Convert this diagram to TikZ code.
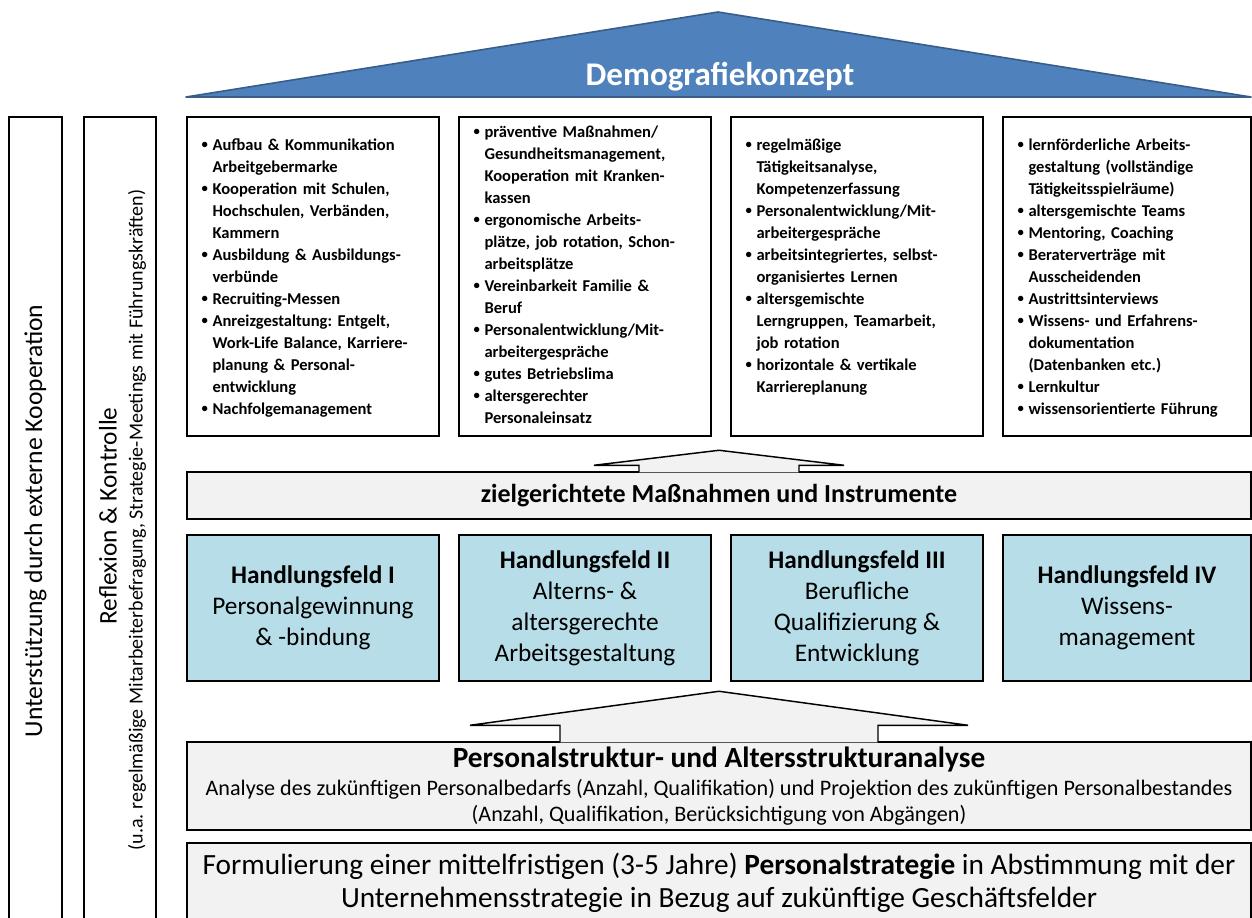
\documentclass[tikz,border=0pt]{standalone}
\usepackage{fontspec}
\setmainfont{Carlito}
\usepackage{enumitem}
\usetikzlibrary{calc}
\frenchspacing
\definecolor{roofblue}{HTML}{4F81BD}
\definecolor{roofline}{HTML}{385D8A}
\definecolor{fieldblue}{HTML}{B7DEE8}
\definecolor{barfill}{HTML}{F2F2F2}
\newcommand{\liste}[1]{\begin{itemize}[nosep,leftmargin=9.75pt,labelsep=3.5pt,
  label={\raisebox{0.12em}{\fontsize{9.5}{9.5}\selectfont\textbullet}}]\raggedright#1\end{itemize}}

\begin{document}
\begin{tikzpicture}[x=0.75pt,y=-0.75pt,
  box/.style={draw,line width=1.1pt,inner sep=0pt},
  colbox/.style={box,minimum width=189pt,minimum height=239.25pt},
  listtext/.style={anchor=north west,inner sep=0pt,text width=172pt,align=left,
    font=\fontsize{12.4}{16.5}\selectfont\bfseries},
  field/.style={box,fill=fieldblue,minimum width=189pt,minimum height=109.5pt,
    align=center,font=\fontsize{19}{23.25}\selectfont},
  bar/.style={box,fill=barfill,minimum width=798pt,align=center},
  sidebox/.style={box,minimum height=606pt},
  blockarrow/.style={fill=barfill,draw,line width=1.1pt,line join=miter}]
  \useasboundingbox (0,0) rectangle (1252,917);

  % Roof
  \filldraw[fill=roofblue,draw=roofline,line width=1.2pt,line join=round]
    (186,97) -- (718,12) -- (1251,97) -- cycle;
  \draw[roofline,line width=2.2pt] (186,97) -- (1251,97);
  \node[text=white,font=\fontsize{24.8}{28}\selectfont\bfseries] (title) at (720,77) {Demografiekonzept};

  % Side columns
  \node[sidebox,minimum width=39.75pt] (ext) at (35.5,521) {};
  \node[sidebox,minimum width=54pt] (rk) at (120,521) {};
  \node[rotate=90,font=\fontsize{19.2}{22}\selectfont] (koop) at (ext.center) {Unterstützung durch externe Kooperation};
  \node[rotate=90,font=\fontsize{19}{22}\selectfont] (refl) at (108,516) {Reflexion \& Kontrolle};
  \node[rotate=90,font=\fontsize{15}{17}\selectfont] (reflsub) at (137,520)
    {(u.a. regelmäßige Mitarbeiterbefragung, Strategie-Meetings mit Führungskräften)};

  % Measures
  \node[colbox] (colA) at (313,276.5) {};
  \node[colbox] (colB) at (585,276.5) {};
  \node[colbox] (colC) at (857,276.5) {};
  \node[colbox,minimum width=186pt] (colD) at (1127,276.5) {};

  \node[listtext] (listA) at ($(colA.north west)+(13,12)$) {\liste{
    \item Aufbau \& Kommunikation\\Arbeitgebermarke
    \item Kooperation mit Schulen,\\Hochschulen, Verbänden,\\Kammern
    \item Ausbildung \& Ausbildungs-\\verbünde
    \item Recruiting-Messen
    \item Anreizgestaltung: Entgelt,\\Work-Life Balance, Karriere-\\planung \& Personal-\\entwicklung
    \item Nachfolgemanagement}};
  \node[listtext] (listB) at ($(colB.north west)+(13,-1)$) {\liste{
    \item präventive Maßnahmen/\\Gesundheitsmanagement,\\Kooperation mit Kranken-\\kassen
    \item ergonomische Arbeits-\\plätze, job rotation, Schon-\\arbeitsplätze
    \item Vereinbarkeit Familie \&\\Beruf
    \item Personalentwicklung/Mit-\\arbeitergespräche
    \item gutes Betriebslima
    \item altersgerechter\\Personaleinsatz}};
  \node[listtext] (listC) at ($(colC.north west)+(13,12)$) {\liste{
    \item regelmäßige\\Tätigkeitsanalyse,\\Kompetenzerfassung
    \item Personalentwicklung/Mit-\\arbeitergespräche
    \item arbeitsintegriertes, selbst-\\organisiertes Lernen
    \item altersgemischte\\Lerngruppen, Teamarbeit,\\job rotation
    \item horizontale \& vertikale\\Karriereplanung}};
  \node[listtext] (listD) at ($(colD.north west)+(13,12)$) {\liste{
    \item lernförderliche Arbeits-\\gestaltung (vollständige\\Tätigkeitsspielräume)
    \item altersgemischte Teams
    \item Mentoring, Coaching
    \item Beraterverträge mit\\Ausscheidenden
    \item Austrittsinterviews
    \item Wissens- und Erfahrens-\\dokumentation\\(Datenbanken etc.)
    \item Lernkultur
    \item wissensorientierte Führung}};

  % Instruments bar and fields
  \node[bar,minimum height=35.25pt,font=\fontsize{19.5}{22}\selectfont\bfseries] (meas) at (719,495.5)
    {zielgerichtete Maßnahmen und Instrumente};
  \node[field] (hf1) at (313,608) {\textbf{Handlungsfeld I}\\Personalgewinnung\\\& -bindung};
  \node[field] (hf2) at (585,608) {\textbf{Handlungsfeld II}\\Alterns- \&\\altersgerechte\\Arbeitsgestaltung};
  \node[field] (hf3) at (857,608) {\textbf{Handlungsfeld III}\\Berufliche\\Qualifizierung \&\\Entwicklung};
  \node[field,minimum width=186pt] (hf4) at (1127,608) {\textbf{Handlungsfeld IV}\\Wissens-\\management};

  % Analysis and strategy
  \node[bar,minimum height=66pt,font=\fontsize{16.6}{19.5}\selectfont] (ana) at (719,786)
    {{\fontsize{22}{24}\selectfont\bfseries Personalstruktur- und Altersstrukturanalyse}\\[1pt]
     Analyse des zukünftigen Personalbedarfs (Anzahl, Qualifikation) und Projektion des zukünftigen Personalbestandes\\
     (Anzahl, Qualifikation, Berücksichtigung von Abgängen)};
  \node[bar,minimum height=60pt,font=\fontsize{22}{25}\selectfont] (strat) at (719,883)
    {Formulierung einer mittelfristigen (3-5 Jahre) \textbf{Personalstrategie} in Abstimmung mit der\\
     Unternehmensstrategie in Bezug auf zukünftige Geschäftsfelder};

  % Arrows
  \coordinate (tipA) at ($(meas.north)+(0,-21)$);
  \filldraw[blockarrow] ($(meas.north)+(-80,1)$) |- ($(meas.north)+(-125,-6)$) -- (tipA)
    -- ($(meas.north)+(125,-6)$) -| ($(meas.north)+(80,1)$);
  \coordinate (tipB) at ($(ana.north)+(0,-50)$);
  \filldraw[blockarrow] ($(ana.north)+(-159,1)$) |- ($(ana.north)+(-249,-16)$) -- (tipB)
    -- ($(ana.north)+(249,-16)$) -| ($(ana.north)+(159,1)$);
\end{tikzpicture}
\end{document}
